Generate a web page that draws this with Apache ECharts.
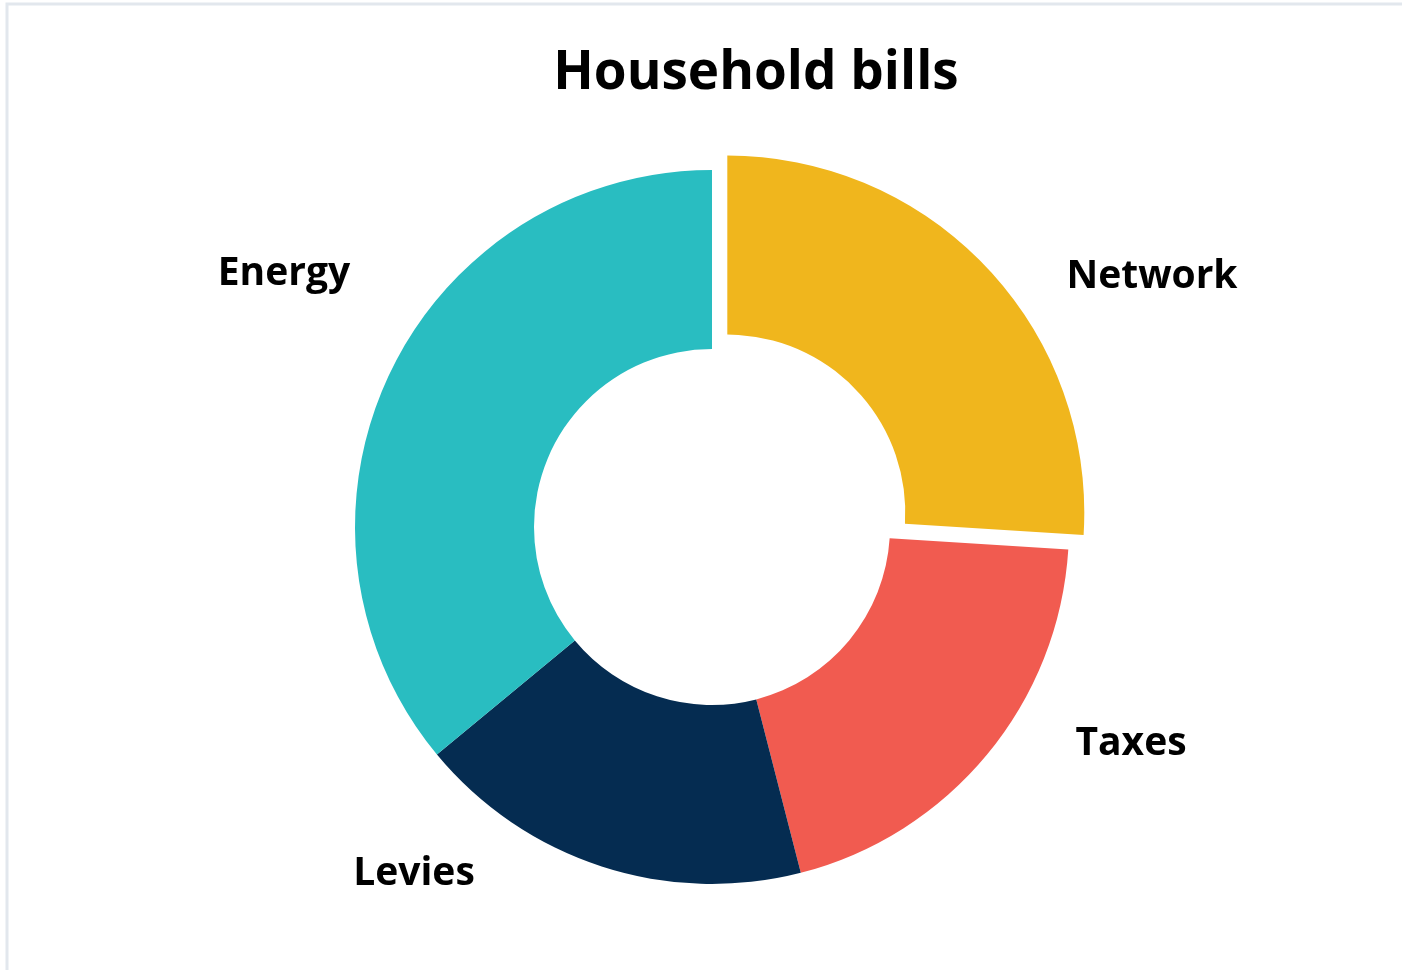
<!DOCTYPE html>
<html>
<head>
<meta charset="utf-8">
<title>Household bills</title>
<script src="https://cdn.jsdelivr.net/npm/echarts@6/dist/echarts.min.js"></script>
<style>
  html, body { margin: 0; padding: 0; background: #ffffff; }
  #chart { width: 1402px; height: 970px; }
</style>
</head>
<body>
<div id="chart"></div>
<script>
// Share of a household bill by component (%)
const categories = ['Network', 'Taxes', 'Levies', 'Energy'];
const shares = [26, 20, 18, 36];
const colors = ['#F0B61D', '#F15B50', '#052C51', '#29BDC1'];
const exploded = ['Network'];

// Label anchor points (centre of each category label)
const labelAnchors = [[1152, 277], [1131, 744], [414, 874], [284, 274]];

const FONT = '"Open Sans", "Noto Sans", sans-serif';

const chart = echarts.init(document.getElementById('chart'), null, { renderer: 'canvas' });

// Frame around the chart area
const graphics = [{
  type: 'rect',
  shape: { x: 7, y: 4, width: 1420, height: 990 },
  style: { fill: 'none', stroke: '#e2e7ed', lineWidth: 3 },
  silent: true
}];

// Category labels placed beside their segments
categories.forEach(function (name, i) {
  graphics.push({
    type: 'text',
    x: labelAnchors[i][0],
    y: labelAnchors[i][1],
    silent: true,
    style: {
      text: name,
      align: 'center',
      verticalAlign: 'middle',
      fontFamily: FONT,
      fontWeight: 'bold',
      fontSize: 39,
      fill: '#000000'
    }
  });
});

chart.setOption({
  backgroundColor: '#ffffff',
  animation: false,
  title: {
    text: 'Household bills',
    left: 751,
    top: 42,
    textAlign: 'center',
    textStyle: { fontFamily: FONT, fontWeight: 'bold', fontSize: 53, color: '#000000' }
  },
  graphic: graphics,
  series: [{
    type: 'pie',
    center: [712, 527],
    radius: [178, 357],
    startAngle: 90,
    clockwise: true,
    selectedMode: 'single',
    selectedOffset: 21,
    label: { show: false },
    labelLine: { show: false },
    emphasis: { disabled: true },
    select: { itemStyle: { borderWidth: 0 } },
    data: categories.map(function (name, i) {
      return {
        name: name,
        value: shares[i],
        selected: exploded.indexOf(name) !== -1,
        itemStyle: { color: colors[i] }
      };
    })
  }]
});
</script>
</body>
</html>
